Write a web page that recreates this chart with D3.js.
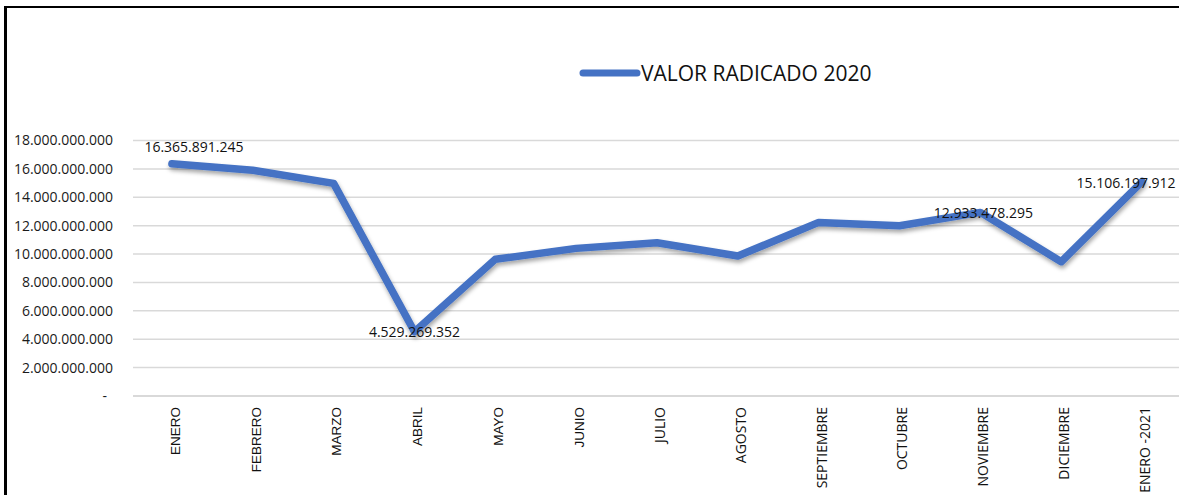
<!DOCTYPE html>
<html>
<head>
<meta charset="utf-8">
<script src="https://cdn.jsdelivr.net/npm/d3@7"></script>
<style>
  html, body { margin: 0; padding: 0; background: #fff; }
  svg { display: block; }
</style>
</head>
<body>
<svg id="chart" width="1179" height="495"></svg>
<script>
// ---- DATA ----
const categories = ["ENERO", "FEBRERO", "MARZO", "ABRIL", "MAYO", "JUNIO", "JULIO",
  "AGOSTO", "SEPTIEMBRE", "OCTUBRE", "NOVIEMBRE", "DICIEMBRE", "ENERO -2021"];
const seriesName = "VALOR RADICADO 2020";
const values = [16365891245, 15900000000, 14980000000, 4529269352, 9630000000,
  10400000000, 10800000000, 9860000000, 12230000000, 11990000000, 12933478295,
  9460000000, 15106197912];
const yTicks = [0, 2000000000, 4000000000, 6000000000, 8000000000, 10000000000,
  12000000000, 14000000000, 16000000000, 18000000000];
const labeledIndices = [0, 3, 10, 12];

// ---- STYLE / LAYOUT ----
const W = 1179, H = 495;
const plot = { left: 131.5, right: 1182.5, top: 140.5, bottom: 396 };
const lineColor = "#4472C4";
const labelOffsets = { 0: [22, -12], 3: [0, 5], 10: [3, 6], 12: [-16, 6.5] };

const svg = d3.select("#chart");

const defs = svg.append("defs");
const f = defs.append("filter").attr("id", "shadow")
  .attr("x", "-10%").attr("y", "-10%").attr("width", "120%").attr("height", "130%");
f.append("feDropShadow").attr("dx", 1).attr("dy", 3).attr("stdDeviation", 2)
  .attr("flood-color", "#000").attr("flood-opacity", 0.35);

// frame (top + left borders)
svg.append("line").attr("x1", 5).attr("x2", W).attr("y1", 7).attr("y2", 7)
  .attr("stroke", "#000").attr("stroke-width", 2);
svg.append("line").attr("x1", 5.5).attr("x2", 5.5).attr("y1", 6).attr("y2", H)
  .attr("stroke", "#000").attr("stroke-width", 3);

const x = d3.scaleBand().domain(categories).range([plot.left, plot.right]);
const y = d3.scaleLinear().domain([0, 18000000000]).range([plot.bottom, plot.top]);

const loc = d3.formatLocale({ decimal: ",", thousands: ".", grouping: [3], currency: ["$", ""] });
const fmt = loc.format(",.0f");

// gridlines
svg.append("g").selectAll("line").data(yTicks).join("line")
  .attr("x1", 133).attr("x2", W)
  .attr("y1", d => y(d)).attr("y2", d => y(d))
  .attr("stroke", "#d9d9d9").attr("stroke-width", d => d === 0 ? 2 : 1.5);

// y axis labels
const yAxis = d3.axisLeft(y).tickValues(yTicks).tickSize(0)
  .tickFormat(d => d === 0 ? "-" : fmt(d));
const yg = svg.append("g").attr("transform", "translate(113,0)").call(yAxis);
yg.select(".domain").remove();
yg.selectAll("text")
  .attr("x", d => d === 0 ? -6 : 0)
  .attr("font-family", "'Open Sans', sans-serif").attr("font-size", "14px")
  .attr("fill", "#1a1a1a");

// x axis labels
const xAxis = d3.axisBottom(x).tickSize(0);
const xg = svg.append("g").attr("transform", `translate(0,${plot.bottom})`).call(xAxis);
xg.select(".domain").remove();
xg.selectAll("text")
  .attr("transform", "rotate(-90)")
  .attr("x", -11).attr("y", 3).attr("dy", "0.35em")
  .attr("text-anchor", "end")
  .attr("font-family", (d, i) => i < 6 ? "'Liberation Sans', Arial, sans-serif" : "'Open Sans', sans-serif")
  .attr("font-size", (d, i) => i < 6 ? "13.5px" : "14px")
  .attr("fill", "#111");

// line
const cx = d => x(d) + x.bandwidth() / 2;
const line = d3.line().x((d, i) => cx(categories[i])).y(d => y(d));
svg.append("path").datum(values)
  .attr("d", line)
  .attr("fill", "none").attr("stroke", lineColor).attr("stroke-width", 7.5)
  .attr("stroke-linejoin", "round").attr("stroke-linecap", "round")
  .attr("filter", "url(#shadow)");

// data labels
svg.append("g").selectAll("text").data(labeledIndices).join("text")
  .attr("x", i => cx(categories[i]) + labelOffsets[i][0])
  .attr("y", i => y(values[i]) + labelOffsets[i][1])
  .attr("text-anchor", "middle")
  .attr("font-family", "'Open Sans', sans-serif").attr("font-size", "14px")
  .attr("fill", "#111")
  .text(i => fmt(values[i]));

// legend
const lg = svg.append("g");
lg.append("line").attr("x1", 583).attr("x2", 637).attr("y1", 73).attr("y2", 73)
  .attr("stroke", lineColor).attr("stroke-width", 7).attr("stroke-linecap", "round");
lg.append("text").attr("x", 641).attr("y", 81)
  .attr("font-family", "'Open Sans', sans-serif").attr("font-size", "21px")
  .attr("fill", "#111").text(seriesName);
</script>
</body>
</html>
